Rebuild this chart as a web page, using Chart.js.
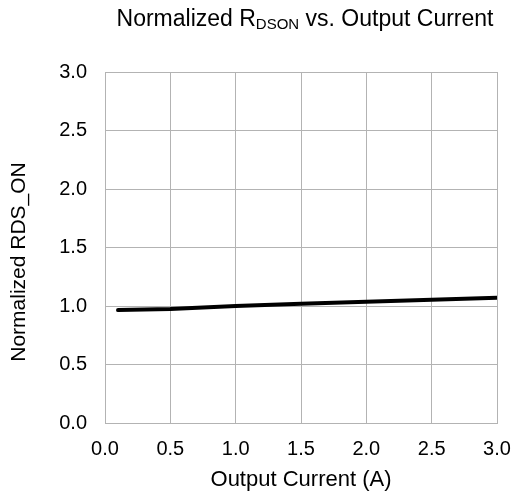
<!DOCTYPE html>
<html><head><meta charset="utf-8">
<script src="https://cdn.jsdelivr.net/npm/chart.js@4"></script>
<style>html,body{margin:0;padding:0;background:#fff}#wrap{width:513px;height:494px;position:relative}</style>
</head><body><div id="wrap"><canvas id="c" width="513" height="494"></canvas></div>
<script>
const currentA = [0.1, 0.5, 1.0, 1.5, 2.0, 2.5, 3.0];
const normRdsOn = [0.965, 0.975, 1.0, 1.02, 1.037, 1.054, 1.07];
const xTicks = [0, 0.5, 1.0, 1.5, 2.0, 2.5, 3.0];
const yTicks = [0, 0.5, 1.0, 1.5, 2.0, 2.5, 3.0];
const titleParts = ['Normalized R', 'DSON', ' vs. Output Current'];
const yTitle = 'Normalized RDS_ON';
const xTitle = 'Output Current (A)';
const FONT = '"Liberation Sans", Arial, sans-serif';

const textPlugin = {
  id: 'texts',
  afterDraw(chart) {
    const ctx = chart.ctx;
    ctx.save();
    ctx.fillStyle = '#000';
    ctx.textBaseline = 'alphabetic';
    const big = '23px ' + FONT, small = '15px ' + FONT;
    const parts = [[titleParts[0], big, 0], [titleParts[1], small, 3], [titleParts[2], big, 0]];
    let total = 0;
    parts.forEach(p => { ctx.font = p[1]; total += ctx.measureText(p[0]).width; });
    let x = 305 - total / 2;
    const y = 26;
    parts.forEach(p => { ctx.font = p[1]; ctx.fillText(p[0], x, y + p[2]); x += ctx.measureText(p[0]).width; });
    // y axis title
    ctx.font = '21px ' + FONT;
    ctx.translate(25, 262);
    ctx.rotate(-Math.PI / 2);
    ctx.textAlign = 'center';
    ctx.fillText(yTitle, 0, 0);
    ctx.restore();
  }
};

new Chart(document.getElementById('c'), {
  type: 'line',
  data: {
    datasets: [{
      data: currentA.map((x, i) => ({x, y: normRdsOn[i]})),
      borderColor: '#000', borderWidth: 4, pointRadius: 0, tension: 0, fill: false,
      borderCapStyle: 'round'
    }]
  },
  options: {
    responsive: false, animation: false,
    layout: { padding: { top: 72, right: 16, left: 0, bottom: 0 } },
    plugins: { legend: { display: false }, tooltip: { enabled: false } },
    scales: {
      x: {
        type: 'linear', min: 0, max: 3,
        afterBuildTicks: s => { s.ticks = xTicks.map(v => ({value: v})); },
        afterFit: s => { s.height = 71; s.paddingLeft = 0; s.paddingRight = 0; },
        grid: { color: '#b3b3b3', lineWidth: 1, drawTicks: false },
        border: { color: '#b3b3b3' },
        ticks: { color: '#000', font: { family: FONT, size: 20 }, padding: 14, callback: v => v.toFixed(1), maxRotation: 0, autoSkip: false },
        title: { display: true, text: xTitle, color: '#000', font: { family: FONT, size: 22 }, padding: { top: 4, bottom: 1 } }
      },
      y: {
        min: 0, max: 3,
        afterBuildTicks: s => { s.ticks = yTicks.map(v => ({value: v})); },
        afterFit: s => { s.width = 105; s.paddingTop = 0; s.paddingBottom = 0; },
        grid: { color: '#b3b3b3', lineWidth: 1, drawTicks: false },
        border: { color: '#b3b3b3' },
        ticks: { color: '#000', font: { family: FONT, size: 20 }, padding: 18, callback: v => v.toFixed(1), autoSkip: false }
      }
    }
  },
  plugins: [textPlugin]
});
</script></body></html>
